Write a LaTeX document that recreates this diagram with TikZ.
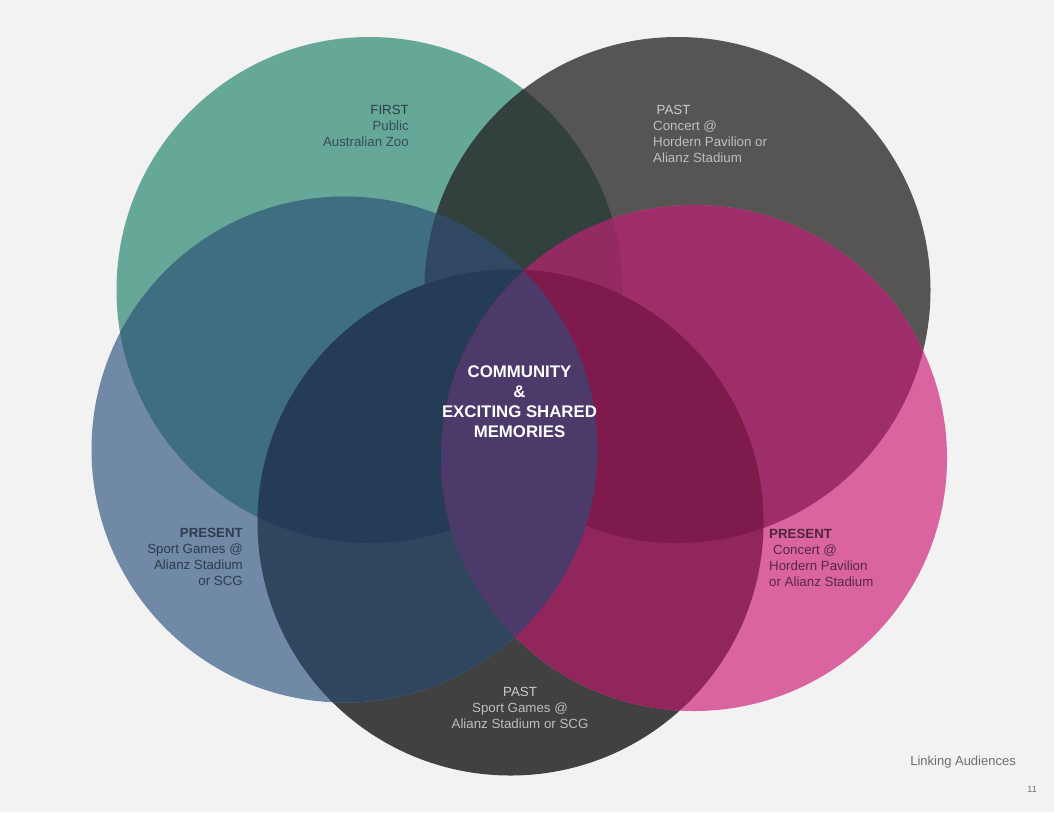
\documentclass[tikz,border=0pt]{standalone}
\usepackage{fontspec}
\setmainfont{Liberation Sans}
\definecolor{bg}{RGB}{242,242,242}
\definecolor{cG}{RGB}{102,168,152}
\definecolor{cGr}{RGB}{87,85,83}
\definecolor{cB}{RGB}{112,137,166}
\definecolor{cP}{RGB}{218,100,160}
\definecolor{cD}{RGB}{65,65,65}
\definecolor{cGGr}{RGB}{51,65,62}
\definecolor{cGB}{RGB}{63,110,128}
\definecolor{cBD}{RGB}{48,70,94}
\definecolor{cGBGr}{RGB}{48,72,98}
\definecolor{cGBD}{RGB}{37,60,88}
\definecolor{cGrP}{RGB}{158,46,105}
\definecolor{cGrPG}{RGB}{147,42,97}
\definecolor{cPD}{RGB}{144,38,92}
\definecolor{cPDGr}{RGB}{127,26,76}
\definecolor{cBP}{RGB}{75,58,106}
\definecolor{tFirstH}{RGB}{50,56,66}
\definecolor{tFirst}{RGB}{58,74,90}
\definecolor{tPastH}{RGB}{205,205,205}
\definecolor{tPast}{RGB}{190,190,190}
\definecolor{tPresLH}{RGB}{46,60,76}
\definecolor{tPresL}{RGB}{44,60,76}
\definecolor{tPresRH}{RGB}{78,38,60}
\definecolor{tPresR}{RGB}{88,40,66}
\definecolor{tFoot}{RGB}{110,110,110}
\tikzset{
  rad/.style={radius=253pt},
  lbl/.style={inner sep=0pt, font=\fontsize{13.3}{16}\selectfont},
  ctr/.style={inner sep=0pt, text=white, font=\fontsize{16.8}{20}\selectfont\bfseries},
}
\begin{document}
\begin{tikzpicture}[x=1pt,y=-1pt]
\useasboundingbox (0,0) rectangle (1054,812);
\fill[bg] (0,0) rectangle (1054,812);
\coordinate (g) at (369.5,290);
\coordinate (gr) at (677.5,290);
\coordinate (b) at (344.5,449.5);
\coordinate (p) at (694,458);
\coordinate (d) at (510.5,522.5);
% single circles
\fill[cG] (g) circle[rad];
\fill[cGr] (gr) circle[rad];
\fill[cD] (d) circle[rad];
\fill[cB] (b) circle[rad];
\fill[cP] (p) circle[rad];
% pairwise and higher overlaps
\begin{scope}\clip (g) circle[rad]; \fill[cGGr] (gr) circle[rad]; \end{scope}
\begin{scope}\clip (g) circle[rad]; \fill[cGB] (b) circle[rad]; \end{scope}
\begin{scope}\clip (b) circle[rad]; \fill[cBD] (d) circle[rad]; \end{scope}
\begin{scope}\clip (g) circle[rad]; \clip (b) circle[rad]; \fill[cGBGr] (gr) circle[rad]; \end{scope}
\begin{scope}\clip (g) circle[rad]; \clip (b) circle[rad]; \fill[cGBD] (d) circle[rad]; \end{scope}
\begin{scope}\clip (gr) circle[rad]; \fill[cGrP] (p) circle[rad]; \end{scope}
\begin{scope}\clip (gr) circle[rad]; \clip (g) circle[rad]; \fill[cGrPG] (p) circle[rad]; \end{scope}
\begin{scope}\clip (p) circle[rad]; \fill[cPD] (d) circle[rad]; \end{scope}
\begin{scope}\clip (p) circle[rad]; \clip (d) circle[rad]; \fill[cPDGr] (gr) circle[rad]; \end{scope}
\begin{scope}\clip (p) circle[rad]; \clip (d) circle[rad]; \fill[cPDGr] (g) circle[rad]; \end{scope}
\begin{scope}\clip (b) circle[rad]; \fill[cBP] (p) circle[rad]; \end{scope}
% FIRST
\node[lbl, anchor=base east, text=tFirstH] (f1) at (409,114) {FIRST};
\node[lbl, anchor=base east, text=tFirst] (f2) at (409,130) {Public};
\node[lbl, anchor=base east, text=tFirst] (f3) at (409,146) {Australian Zoo};
% PAST top
\node[lbl, anchor=base west, text=tPastH] (pt1) at (656.5,114) {PAST};
\node[lbl, anchor=base west, text=tPast] (pt2) at (653,130) {Concert @};
\node[lbl, anchor=base west, text=tPast] (pt3) at (653,146) {Hordern Pavilion or};
\node[lbl, anchor=base west, text=tPast] (pt4) at (653,162) {Alianz Stadium};
% PRESENT left
\node[lbl, anchor=base east, text=tPresLH] (pl1) at (243,537) {\bfseries PRESENT};
\node[lbl, anchor=base east, text=tPresL] (pl2) at (243,553) {Sport Games @};
\node[lbl, anchor=base east, text=tPresL] (pl3) at (243,569) {Alianz Stadium};
\node[lbl, anchor=base east, text=tPresL] (pl4) at (243,585) {or SCG};
% PRESENT right
\node[lbl, anchor=base west, text=tPresRH] (pr1) at (769,538) {\bfseries PRESENT};
\node[lbl, anchor=base west, text=tPresR] (pr2) at (773,554) {Concert @};
\node[lbl, anchor=base west, text=tPresR] (pr3) at (769,570) {Hordern Pavilion};
\node[lbl, anchor=base west, text=tPresR] (pr4) at (769,586) {or Alianz Stadium};
% PAST bottom
\node[lbl, anchor=base, text=tPastH] (pb1) at (520,696) {PAST};
\node[lbl, anchor=base, text=tPast] (pb2) at (520,712) {Sport Games @};
\node[lbl, anchor=base, text=tPast] (pb3) at (520,728) {Alianz Stadium or SCG};
% centre
\node[ctr, anchor=base] (c1) at (519.5,377) {COMMUNITY};
\node[ctr, anchor=base] (c2) at (519.5,397) {\&};
\node[ctr, anchor=base] (c3) at (519.5,417) {EXCITING SHARED};
\node[ctr, anchor=base] (c4) at (519.5,437) {MEMORIES};
% footer
\node[inner sep=0pt, anchor=base east, text=tFoot, font=\fontsize{13}{15}\selectfont] (foot) at (1016,765) {Linking Audiences};
\node[inner sep=0pt, anchor=base east, text=tFoot, font=\fontsize{9}{11}\selectfont] (pg) at (1037,792) {11};
\end{tikzpicture}
\end{document}
